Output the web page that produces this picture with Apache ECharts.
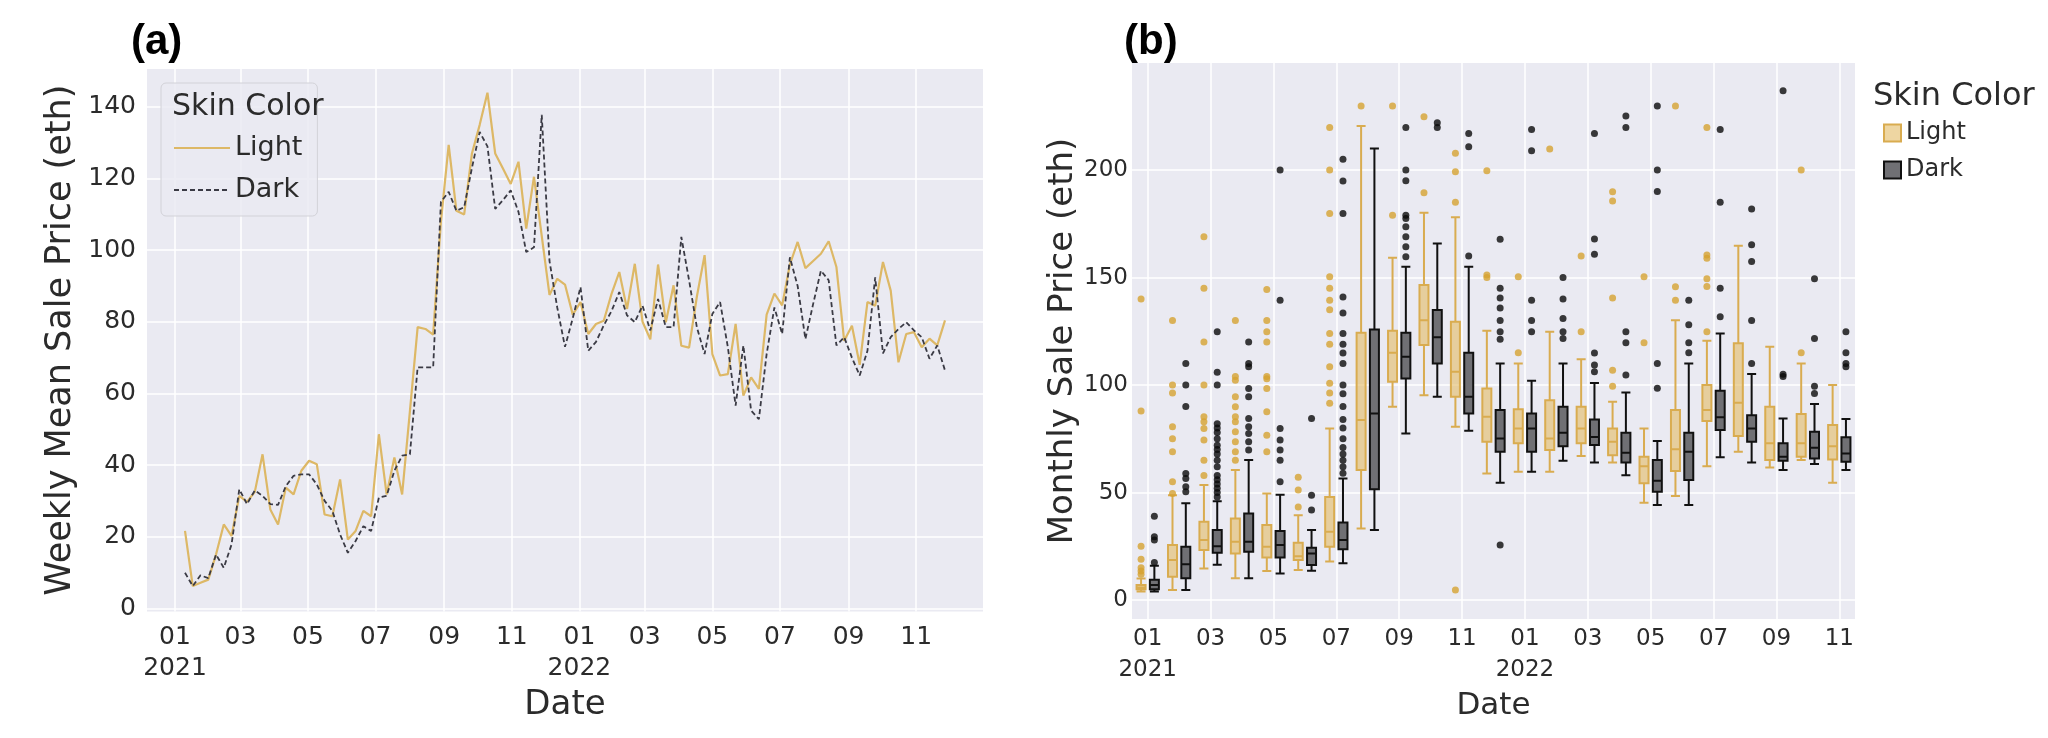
<!DOCTYPE html>
<html><head><meta charset="utf-8">
<script src="https://cdn.jsdelivr.net/npm/echarts@6/dist/echarts.min.js"></script>
<style>html,body{margin:0;padding:0;background:#fff}#c{width:2048px;height:738px}</style>
</head><body><div id="c"></div><script>
// ---------- Panel (a): weekly mean sale price ----------
const weekDates = [
 '2021-01-10','2021-01-17','2021-01-24','2021-01-31','2021-02-07','2021-02-14','2021-02-21','2021-02-28',
 '2021-03-07','2021-03-14','2021-03-21','2021-03-28','2021-04-04','2021-04-11','2021-04-18','2021-04-25',
 '2021-05-02','2021-05-09','2021-05-16','2021-05-23','2021-05-30','2021-06-06','2021-06-13','2021-06-20','2021-06-27',
 '2021-07-04','2021-07-11','2021-07-18','2021-07-25','2021-08-01','2021-08-08','2021-08-15','2021-08-22','2021-08-29',
 '2021-09-05','2021-09-12','2021-09-19','2021-09-26','2021-10-03','2021-10-10','2021-10-17','2021-10-24','2021-10-31',
 '2021-11-07','2021-11-14','2021-11-21','2021-11-28','2021-12-05','2021-12-12','2021-12-19','2021-12-26',
 '2022-01-02','2022-01-09','2022-01-16','2022-01-23','2022-01-30','2022-02-06','2022-02-13','2022-02-20','2022-02-27',
 '2022-03-06','2022-03-13','2022-03-20','2022-03-27','2022-04-03','2022-04-10','2022-04-17','2022-04-24',
 '2022-05-01','2022-05-08','2022-05-15','2022-05-22','2022-05-29','2022-06-05','2022-06-12','2022-06-19','2022-06-26',
 '2022-07-03','2022-07-10','2022-07-17','2022-07-24','2022-07-31','2022-08-07','2022-08-14','2022-08-21','2022-08-28',
 '2022-09-04','2022-09-11','2022-09-18','2022-09-25','2022-10-02','2022-10-09','2022-10-16','2022-10-23','2022-10-30',
 '2022-11-06','2022-11-13','2022-11-20','2022-11-27'
];
const lightWeekly = [
 21.6, 6.2, 7.1, 8.0, 15.0, 23.4, 20.2, 31.4, 29.7, 32.5,
 43.0, 27.6, 23.4, 33.7, 31.8, 38.4, 41.2, 40.2, 26.2, 25.7,
 36.0, 19.2, 21.6, 27.2, 25.7, 48.6, 31.8, 42.1, 31.8, 55.0,
 78.5, 78.0, 76.4, 108.0, 129.4, 111.0, 110.0, 127.0, 135.0, 144.0,
 127.0, 122.8, 118.5, 124.7, 106.0, 120.5, 104.0, 87.5, 92.0, 90.4,
 82.0, 85.5, 76.6, 79.4, 80.3, 87.8, 93.9, 83.6, 96.2, 80.0,
 75.1, 96.0, 79.9, 90.2, 73.3, 72.8, 87.0, 98.6, 71.0, 65.0,
 65.4, 79.4, 59.4, 64.5, 61.3, 82.0, 87.9, 84.6, 96.0, 102.3,
 95.0, 97.0, 99.0, 102.5, 95.3, 74.7, 78.9, 68.0, 85.5, 84.5,
 96.7, 88.7, 68.7, 76.6, 77.1, 72.9, 75.3, 73.4, 80.4
];
const darkWeekly = [
 9.9, 6.2, 9.2, 8.4, 15.0, 11.3, 17.8, 33.2, 29.1, 32.9,
 31.4, 29.1, 28.9, 34.1, 37.0, 37.4, 37.4, 34.6, 30.0, 27.2,
 20.6, 15.5, 18.8, 22.9, 21.6, 30.9, 31.4, 38.4, 42.6, 43.0,
 67.3, 67.3, 67.3, 113.5, 116.3, 111.0, 112.0, 123.0, 133.0, 129.0,
 111.5, 114.0, 116.7, 110.7, 99.5, 100.8, 137.8, 97.0, 84.0, 73.0,
 81.0, 89.7, 71.9, 74.4, 79.0, 83.0, 88.3, 81.8, 79.9, 84.5,
 77.6, 86.4, 78.5, 78.5, 103.7, 91.6, 78.5, 71.0, 82.2, 85.5,
 72.9, 56.6, 73.4, 55.2, 52.8, 71.0, 84.0, 76.6, 98.0, 90.0,
 75.2, 85.0, 94.3, 91.6, 73.4, 75.7, 70.0, 65.0, 71.9, 92.4,
 71.2, 75.7, 78.0, 79.9, 77.6, 75.7, 69.7, 73.4, 66.4
];
const yTicksA = [0, 20, 40, 60, 80, 100, 120, 140];
const xTickDatesA = ['2021-01-01','2021-03-01','2021-05-01','2021-07-01','2021-09-01','2021-11-01',
                     '2022-01-01','2022-03-01','2022-05-01','2022-07-01','2022-09-01','2022-11-01'];
const xTickLabelsA = ['01\n2021','03','05','07','09','11','01\n2022','03','05','07','09','11'];

// ---------- Panel (b): monthly sale price boxes ----------
const months = ['2021-01','2021-02','2021-03','2021-04','2021-05','2021-06','2021-07','2021-08','2021-09','2021-10','2021-11','2021-12',
                '2022-01','2022-02','2022-03','2022-04','2022-05','2022-06','2022-07','2022-08','2022-09','2022-10','2022-11'];
const xTickIdxB = [0, 2, 4, 6, 8, 10, 12, 14, 16, 18, 20, 22];
const xTickLabelsB = ['01\n2021','03','05','07','09','11','01\n2022','03','05','07','09','11'];
const yTicksB = [0, 50, 100, 150, 200];
// [lower whisker, Q1, median, Q3, upper whisker]
const lightBox = [
 [4, 5, 5.8, 7, 10], [4.7, 10.8, 18.6, 25.6, 48.8], [14.7, 23.3, 27.9, 36.4, 53.5], [10.1, 21.7, 27.1, 38, 60.5],
 [13.5, 19.8, 24.8, 34.9, 49.6], [14, 18.6, 20.4, 26.7, 39.5], [17.9, 24.8, 31.8, 48, 79.8], [33.3, 60.5, 83.7, 124.3, 220.5],
 [89.9, 101.5, 115, 125.3, 159.2], [95.3, 118.6, 130.2, 146.5, 180.1], [80.6, 94.6, 106.2, 129.5, 178], [58.9, 73.6, 85.3, 98.4, 125.3],
 [59.7, 72.9, 79.8, 88.7, 110], [59.7, 69.8, 75.2, 93, 124.8], [67, 72.9, 79.8, 89.9, 112], [64, 67.4, 73.6, 79.8, 92.2],
 [45.3, 54.3, 62.3, 66.7, 79.8], [48.4, 60, 70.1, 88.4, 130.2], [62.3, 83.3, 88.4, 100, 120.6], [69, 76.3, 91.8, 119.4, 164.8],
 [61.7, 65.1, 72.9, 89.9, 117.8], [65.1, 66.7, 72.9, 86.5, 110], [54.6, 65.4, 71.6, 81.4, 100]
];
const darkBox = [
 [4, 5, 7, 9.5, 16], [4.7, 10.1, 16.7, 24.8, 45], [16.4, 22, 25, 32.6, 46], [10.1, 22.5, 27.1, 40.3, 65.1],
 [12.4, 19.8, 25.6, 32.1, 49], [13.6, 16.3, 21.7, 24.3, 32.6], [17.1, 23.6, 27.9, 36.1, 56.6], [32.6, 51.5, 86.8, 125.9, 210],
 [77.5, 103.1, 113.2, 124.3, 155], [94.6, 110, 122.2, 134.9, 165.9], [78.8, 86.8, 94.6, 115, 155], [54.6, 69, 75.2, 88.4, 110],
 [59.7, 69, 79.8, 86.8, 102], [64.8, 71.6, 77.8, 89.9, 110], [64, 72.1, 75.9, 84, 101], [58.1, 64, 68.5, 77.8, 96.6],
 [44.2, 50.4, 55.5, 65.1, 74], [44.2, 55.8, 69, 77.8, 110], [66.4, 79.1, 85, 97.4, 124], [64, 73.6, 79.8, 86, 105.1],
 [60.5, 64.8, 66.7, 72.9, 84.5], [63.3, 65.9, 70.9, 78.3, 91.2], [60.5, 64.3, 68.2, 75.7, 84.2]
];
const lightOutliers = [
 [12, 13.5, 15, 19, 25, 88, 140],
 [49.6, 55, 69, 75, 80.6, 96.3, 100, 130],
 [58, 65, 74.4, 79.8, 82.9, 85.3, 100, 120, 145, 169],
 [65, 69, 73.6, 78.3, 82.9, 85.3, 89.9, 94.6, 102.3, 104, 130],
 [69, 76.7, 87.6, 98.4, 103, 104, 120, 124.8, 130, 144.5],
 [43.3, 51.2, 57.1],
 [91.5, 96.3, 100.9, 108.5, 119, 124, 135, 139.5, 145, 150.4, 179.8, 200, 219.8],
 [229.8],
 [179, 229.8],
 [189.5, 224.8],
 [4.7, 185, 199.2, 207.8],
 [150, 151.2, 199.7],
 [115, 150.4],
 [209.8],
 [124.8, 160],
 [99.5, 106.9, 140.5, 185.6, 189.9],
 [119.7, 150.4],
 [139.5, 145.7, 229.8],
 [124.8, 145.8, 149.5, 159, 160.5, 219.8],
 [],
 [],
 [115, 200],
 []
];
const darkOutliers = [
 [17.5, 28, 29.5, 39],
 [50.4, 52.7, 56.6, 58.9, 90, 100, 110],
 [48, 50, 52, 54, 56, 58, 62, 65, 68, 70, 72, 75, 78, 80, 82, 100, 106, 124.8],
 [69.8, 73.6, 77.5, 80.6, 84.5, 94.6, 98.4, 108.5, 110, 120],
 [55, 65, 69.8, 74.4, 79.8, 139.5, 200],
 [41.9, 48.8, 84.5],
 [59, 62, 65, 68, 71, 75, 80, 84, 90, 96, 100, 110, 114.9, 119, 124, 133.5, 141, 179.8, 194.9, 205],
 [],
 [159.7, 164.3, 169, 173.6, 177.5, 179, 195, 200, 219.8],
 [219.8, 222],
 [160, 210.9, 217],
 [25.6, 121.3, 124.8, 130, 135.8, 140.5, 145, 167.8],
 [124.8, 130, 139.5, 209, 218.9],
 [121.7, 124.8, 131, 140, 150],
 [106.2, 109.3, 114.9, 160.9, 167.9, 217],
 [104.7, 119.7, 124.8, 219.8, 225.1],
 [98.5, 110, 190, 200, 229.8],
 [115, 119.7, 128, 139.5],
 [131.8, 145, 185, 218.9],
 [110, 130, 157.5, 165.3, 181.9],
 [104, 105, 236.9],
 [96.1, 99.5, 121.7, 149.5],
 [108.5, 110, 115, 124.8]
];

// ---------- styling ----------
const FONT = 'DejaVu Sans';
const BG = '#EAEAF2';
const TXT = '#2b2b2b';
const LIGHT_LINE = '#DDB866';
const DARK_LINE = '#3a3a44';
const LIGHT_FILL = 'rgba(226,186,100,0.6)';
const LIGHT_EDGE = '#D9AC50';
const DARK_FILL = '#707074';
const DARK_EDGE = '#111111';

const chart = echarts.init(document.getElementById('c'), null, {renderer: 'canvas'});
const tParse = s => { const p = s.split('-').map(Number); return Date.UTC(p[0], p[1] - 1, p[2]); };
const weekTs = weekDates.map(tParse);
const t0 = weekTs[0], t1 = weekTs[weekTs.length - 1];
const pad = (t1 - t0) * 0.05;
const xTickTsA = xTickDatesA.map(tParse);

const option = {
  animation: false,
  backgroundColor: '#ffffff',
  title: [
    {text: '(a)', left: 131, top: 20, padding: 0, textStyle: {fontSize: 42, fontWeight: 'bold', fontFamily: 'Liberation Sans', color: '#000', lineHeight: 44}},
    {text: '(b)', left: 1124, top: 20, padding: 0, textStyle: {fontSize: 42, fontWeight: 'bold', fontFamily: 'Liberation Sans', color: '#000', lineHeight: 44}},
    {text: 'Skin Color', left: 172, top: 92, padding: 0, textStyle: {fontSize: 30, fontWeight: 'normal', fontFamily: FONT, color: TXT, lineHeight: 30}},
    {text: 'Skin Color', left: 1873, top: 81, padding: 0, textStyle: {fontSize: 32, fontWeight: 'normal', fontFamily: FONT, color: TXT, lineHeight: 32}}
  ],
  legend: [
    {
      left: 161, top: 83, orient: 'vertical',
      data: [{name: 'Light', itemStyle: {opacity: 0}}, {name: 'Dark', itemStyle: {opacity: 0}}],
      itemWidth: 56, itemHeight: 20, itemGap: 12, itemTextGap: 24,
      padding: [50, 15, 11, 12],
      backgroundColor: 'rgba(234,234,242,0.85)', borderColor: '#d2d2d8', borderWidth: 1, borderRadius: 5,
      textStyle: {fontSize: 27, lineHeight: 30, color: TXT, fontFamily: FONT},
      selectedMode: false
    },
    {
      left: 1883, top: 119, orient: 'vertical',
      data: [
        {name: 'Light (b)', icon: 'rect', itemStyle: {color: LIGHT_FILL, borderColor: LIGHT_EDGE, borderWidth: 2}},
        {name: 'Dark (b)', icon: 'rect', itemStyle: {color: DARK_FILL, borderColor: DARK_EDGE, borderWidth: 2}}
      ],
      formatter: n => n.replace(' (b)', ''),
      itemWidth: 17, itemHeight: 17, itemGap: 9, itemTextGap: 14, padding: 0,
      textStyle: {fontSize: 24, lineHeight: 28, color: TXT, fontFamily: FONT},
      selectedMode: false
    }
  ],
  grid: [
    {left: 147, right: 1065, top: 69, bottom: 126.5, show: true, backgroundColor: BG, borderWidth: 0, outerBoundsMode: 'none'},
    {left: 1132, right: 193, top: 63, bottom: 119, show: true, backgroundColor: BG, borderWidth: 0, outerBoundsMode: 'none'}
  ],
  xAxis: [
    {
      type: 'value', gridIndex: 0, position: 'bottom', min: t0 - pad, max: t1 + pad,
      axisLine: {show: false},
      axisTick: {show: false, customValues: xTickTsA},
      axisLabel: {
        customValues: xTickTsA, fontSize: 25, lineHeight: 31, margin: 10, color: TXT, fontFamily: FONT,
        formatter: v => { const i = xTickTsA.indexOf(v); return i >= 0 ? xTickLabelsA[i] : ''; }
      },
      splitLine: {show: true, lineStyle: {color: '#ffffff', width: 1.5}},
      name: 'Date', nameLocation: 'middle', nameGap: 72,
      nameTextStyle: {fontSize: 34, color: TXT, fontFamily: FONT}
    },
    {
      type: 'category', gridIndex: 1, position: 'bottom', data: months, boundaryGap: true, show: false
    },
    {
      type: 'value', gridIndex: 1, position: 'bottom', min: -0.5, max: 22.5,
      axisLine: {show: false},
      axisTick: {show: false, customValues: xTickIdxB},
      axisLabel: {
        customValues: xTickIdxB, fontSize: 23, lineHeight: 31, margin: 5, color: TXT, fontFamily: FONT,
        formatter: v => { const i = xTickIdxB.indexOf(v); return i >= 0 ? xTickLabelsB[i] : ''; }
      },
      splitLine: {show: true, lineStyle: {color: '#ffffff', width: 1.5}},
      name: 'Date', nameLocation: 'middle', nameGap: 67,
      nameTextStyle: {fontSize: 31, color: TXT, fontFamily: FONT}
    }
  ],
  yAxis: [
    {
      type: 'value', gridIndex: 0, min: -0.9, max: 150.6,
      axisLine: {show: false},
      axisTick: {show: false, customValues: yTicksA},
      axisLabel: {customValues: yTicksA, fontSize: 25, margin: 11, color: TXT, fontFamily: FONT},
      splitLine: {show: true, lineStyle: {color: '#ffffff', width: 1.5}},
      name: 'Weekly Mean Sale Price (eth)', nameLocation: 'middle', nameGap: 69,
      nameTextStyle: {fontSize: 35, color: TXT, fontFamily: FONT}
    },
    {
      type: 'value', gridIndex: 1, min: -8.8, max: 249.8,
      axisLine: {show: false},
      axisTick: {show: false, customValues: yTicksB},
      axisLabel: {customValues: yTicksB, fontSize: 23, margin: 4, color: TXT, fontFamily: FONT},
      splitLine: {show: true, lineStyle: {color: '#ffffff', width: 1.5}},
      name: 'Monthly Sale Price (eth)', nameLocation: 'middle', nameGap: 47,
      nameTextStyle: {fontSize: 34, color: TXT, fontFamily: FONT}
    }
  ],
  series: [
    {
      name: 'Light', type: 'line', xAxisIndex: 0, yAxisIndex: 0, symbol: 'none',
      data: weekTs.map((t, i) => [t, lightWeekly[i]]),
      lineStyle: {color: LIGHT_LINE, width: 2.2}, itemStyle: {color: LIGHT_LINE}, z: 3
    },
    {
      name: 'Dark', type: 'line', xAxisIndex: 0, yAxisIndex: 0, symbol: 'none',
      data: weekTs.map((t, i) => [t, darkWeekly[i]]),
      lineStyle: {color: DARK_LINE, width: 1.8, type: [5, 3]}, itemStyle: {color: DARK_LINE}, z: 4
    },
    {
      name: 'Light (b)', type: 'boxplot', xAxisIndex: 1, yAxisIndex: 1,
      data: lightBox, boxWidth: [7, 9],
      itemStyle: {color: LIGHT_FILL, borderColor: LIGHT_EDGE, borderWidth: 2}
    },
    {
      name: 'Dark (b)', type: 'boxplot', xAxisIndex: 1, yAxisIndex: 1,
      data: darkBox, boxWidth: [7, 9],
      itemStyle: {color: DARK_FILL, borderColor: DARK_EDGE, borderWidth: 2}
    },
    {
      name: 'Light outliers', type: 'scatter', xAxisIndex: 1, yAxisIndex: 1,
      data: lightOutliers.flatMap((arr, i) => arr.map(v => [i, v])),
      symbolSize: 7, symbolOffset: [-6.65, 0], itemStyle: {color: '#D6A331'}
    },
    {
      name: 'Dark outliers', type: 'scatter', xAxisIndex: 1, yAxisIndex: 1,
      data: darkOutliers.flatMap((arr, i) => arr.map(v => [i, v])),
      symbolSize: 7, symbolOffset: [6.65, 0], itemStyle: {color: '#0a0a0a'}
    }
  ]
};
chart.setOption(option);
</script></body></html>
